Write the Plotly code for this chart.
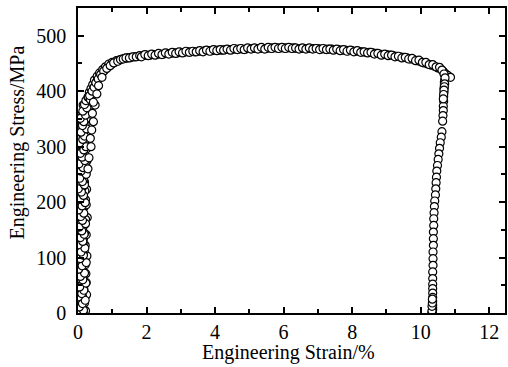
import plotly.graph_objects as go

# ---- data ----
# elastic loading: three passes of readings (dense, scattered band near zero strain)
elastic_strain = [0.05, 0.22, 0.12, 0.03, 0.18, 0.08, 0.25, 0.10, 0.02, 0.20, 0.14, 0.06, 0.23, 0.11, 0.04,
                  0.19, 0.09, 0.26, 0.13, 0.03, 0.21, 0.07, 0.16, 0.24, 0.05, 0.12, 0.20, 0.08, 0.27, 0.14,
                  0.04, 0.18, 0.10, 0.22, 0.06, 0.15, 0.25, 0.09, 0.19, 0.03, 0.13, 0.23, 0.07, 0.17, 0.26,
                  0.10, 0.20, 0.05, 0.14, 0.28, 0.11, 0.22, 0.08, 0.18, 0.30, 0.13, 0.24, 0.09, 0.20, 0.28,
                  0.15, 0.25, 0.33,
                  0.15, 0.02, 0.09, 0.19, 0.06, 0.13, 0.01, 0.17, 0.08, 0.24, 0.04, 0.15, 0.10, 0.02, 0.21,
                  0.07, 0.13, 0.03, 0.18, 0.09, 0.15, 0.02, 0.11, 0.19, 0.06, 0.16, 0.03, 0.22, 0.10, 0.05,
                  0.13, 0.24, 0.07, 0.15, 0.02, 0.20, 0.12, 0.04, 0.17, 0.09, 0.23, 0.06, 0.14, 0.21, 0.10,
                  0.16, 0.07, 0.25, 0.12, 0.19, 0.08, 0.15, 0.27, 0.11, 0.21, 0.16, 0.10, 0.26, 0.18, 0.31,
                  0.22, 0.29, 0.36,
                  0.10, 0.16, 0.04, 0.13, 0.21, 0.01, 0.11, 0.17, 0.05, 0.23, 0.14, 0.07, 0.19, 0.02, 0.12,
                  0.24, 0.06, 0.16, 0.09, 0.20, 0.01, 0.14, 0.07, 0.18, 0.11, 0.04, 0.22, 0.13, 0.08, 0.17,
                  0.02, 0.12, 0.21, 0.06, 0.16, 0.10, 0.01, 0.19, 0.13, 0.05, 0.24, 0.09, 0.15, 0.03, 0.20,
                  0.12, 0.07, 0.17, 0.23, 0.05, 0.14, 0.19, 0.09, 0.25, 0.13, 0.17, 0.07, 0.22, 0.14, 0.26,
                  0.19, 0.23, 0.29]
elastic_stress = [0, 4, 9, 15, 21, 27, 33, 40, 46, 52, 58, 65, 71, 77, 84, 90, 96, 103, 109, 115, 122, 128,
                  134, 141, 147, 153, 160, 166, 172, 179, 185, 191, 198, 204, 210, 217, 223, 229, 236, 242,
                  248, 255, 261, 267, 274, 280, 286, 293, 299, 305, 312, 318, 324, 331, 337, 343, 350, 356,
                  362, 369, 375, 381, 387,
                  2, 7, 12, 18, 24, 30, 37, 43, 49, 55, 62, 68, 74, 81, 87, 93, 100, 106, 112, 119, 125, 131,
                  138, 144, 150, 157, 163, 169, 176, 182, 188, 195, 201, 207, 214, 220, 226, 233, 239, 245,
                  252, 258, 264, 271, 277, 283, 290, 296, 302, 309, 315, 321, 328, 334, 340, 347, 353, 359,
                  366, 372, 378, 384, 392,
                  1, 5, 11, 17, 23, 29, 35, 41, 47, 54, 60, 66, 72, 79, 85, 91, 98, 104, 110, 117, 123, 129,
                  136, 142, 148, 155, 161, 167, 174, 180, 186, 193, 199, 205, 212, 218, 224, 231, 237, 243,
                  250, 256, 262, 269, 275, 281, 288, 294, 300, 307, 313, 319, 326, 332, 338, 345, 351, 357,
                  364, 370, 376, 383, 389]

knee_strain = [0.30, 0.36, 0.33, 0.40, 0.38, 0.45, 0.43, 0.50, 0.48, 0.55, 0.56, 0.62, 0.63, 0.70, 0.72,
               0.78, 0.80, 0.87, 0.90, 0.97, 1.00, 1.08, 1.12, 1.20, 1.28, 1.36, 1.45, 1.55, 1.65, 1.75,
               0.34, 0.41, 0.47, 0.52, 0.59, 0.66, 0.75, 0.84, 0.94, 1.04, 1.16, 1.24, 1.32, 1.40, 1.50,
               1.60, 1.70, 1.80,
               0.32, 0.38, 0.40, 0.45, 0.42, 0.50, 0.45, 0.55, 0.60, 0.70, 0.36, 0.29]
knee_stress = [390, 385, 398, 395, 405, 402, 412, 410, 420, 418, 427, 425, 433, 432, 439,
               438, 444, 443, 449, 448, 452, 452, 455, 456, 458, 459, 460, 461, 462, 463,
               392, 400, 407, 415, 422, 430, 436, 441, 446, 451, 454, 457, 458, 460, 460,
               462, 462, 464,
               280, 300, 330, 345, 360, 375, 380, 395, 410, 425, 315, 260]

plateau_strain = [1.9, 2.0, 2.1, 2.2, 2.3, 2.4, 2.5, 2.6, 2.7, 2.8,
                  2.9, 3.0, 3.1, 3.2, 3.3, 3.4, 3.5, 3.6, 3.7, 3.8,
                  3.9, 4.0, 4.1, 4.2, 4.3, 4.4, 4.5, 4.6, 4.7, 4.8,
                  4.9, 5.0, 5.1, 5.2, 5.3, 5.4, 5.5, 5.6, 5.7, 5.8,
                  5.9, 6.0, 6.1, 6.2, 6.3, 6.4, 6.5, 6.6, 6.7, 6.8,
                  6.9, 7.0, 7.1, 7.2, 7.3, 7.4, 7.5, 7.6, 7.7, 7.8,
                  7.9, 8.0, 8.1, 8.2, 8.3, 8.4, 8.5, 8.6, 8.7, 8.8,
                  8.9, 9.0, 9.1, 9.2, 9.3, 9.4, 9.5, 9.6, 9.7, 9.8,
                  9.9, 10.0, 10.1, 10.2, 10.3, 10.4, 10.5, 10.6, 10.65, 10.7,
                  10.75, 10.8, 10.87]
plateau_stress = [464, 465, 465, 466, 466, 467, 467, 468, 468, 469,
                  469, 470, 470, 471, 471, 471, 472, 472, 473, 473,
                  473, 474, 474, 474, 475, 475, 475, 476, 476, 476,
                  476, 477, 477, 477, 477, 477, 477, 478, 478, 478,
                  478, 478, 478, 478, 478, 477, 477, 477, 477, 477,
                  477, 477, 476, 476, 476, 476, 475, 475, 474, 474,
                  473, 473, 472, 472, 471, 470, 470, 469, 468, 467,
                  466, 466, 465, 464, 463, 462, 461, 460, 458, 457,
                  455, 453, 451, 449, 447, 445, 442, 439, 436, 433,
                  430, 428, 425]

plateau2_strain = [1.85, 1.95, 2.05, 2.15, 2.25, 2.35, 2.45, 2.55, 2.65, 2.75,
                   2.85, 2.95, 3.05, 3.15, 3.25, 3.35, 3.45, 3.55, 3.65, 3.75,
                   3.85, 3.95, 4.05, 4.15, 4.25, 4.35, 4.45, 4.55, 4.65, 4.75,
                   4.85, 4.95, 5.05, 5.15, 5.25, 5.35, 5.45, 5.55, 5.65, 5.75,
                   5.85, 5.95, 6.05, 6.15, 6.25, 6.35, 6.45, 6.55, 6.65, 6.75,
                   6.85, 6.95, 7.05, 7.15, 7.25, 7.35, 7.45, 7.55, 7.65, 7.75,
                   7.85, 7.95, 8.05, 8.15, 8.25, 8.35, 8.45, 8.55, 8.65, 8.75,
                   8.85, 8.95, 9.05, 9.15, 9.25, 9.35, 9.45, 9.55, 9.65, 9.75,
                   9.85, 9.95, 10.05, 10.15, 10.25, 10.35, 10.45, 10.55, 10.62, 10.68]
plateau2_stress = [462, 466, 464, 467, 465, 468, 466, 469, 467, 470,
                   468, 471, 469, 472, 470, 472, 471, 473, 471, 474,
                   472, 475, 473, 475, 474, 476, 474, 477, 475, 477,
                   475, 478, 476, 478, 476, 479, 476, 479, 477, 479,
                   477, 479, 477, 479, 477, 478, 476, 478, 476, 478,
                   476, 477, 475, 477, 475, 476, 474, 476, 473, 475,
                   472, 474, 471, 473, 470, 471, 469, 470, 467, 468,
                   465, 467, 464, 465, 462, 463, 460, 461, 458, 459,
                   455, 456, 452, 452, 448, 448, 444, 443, 438, 431]

drop_strain = [10.70, 10.69, 10.69, 10.68, 10.68, 10.67, 10.67, 10.66, 10.66, 10.65,
               10.64, 10.62, 10.60, 10.57, 10.55, 10.53, 10.51, 10.49, 10.47, 10.46,
               10.45, 10.44, 10.43, 10.41, 10.40, 10.39, 10.38, 10.38, 10.37, 10.37,
               10.37, 10.36, 10.36, 10.36, 10.35, 10.35, 10.35, 10.35, 10.35, 10.35,
               10.35, 10.35, 10.35, 10.35, 10.34, 10.34, 10.33,
               10.71, 10.70, 10.69, 10.68, 10.67, 10.66, 10.33, 10.33, 10.34, 10.34]
drop_stress = [420, 416, 411, 405, 398, 390, 382, 373, 365, 356,
               346, 327, 317, 307, 297, 287, 277, 266, 256, 245,
               235, 224, 213, 202, 192, 181, 170, 158, 146, 134,
               122, 110, 98, 86, 74, 62, 52, 44, 36, 28,
               21, 15, 10, 6, 3, 1, 0,
               424, 413, 408, 402, 394, 386, 4, 12, 18, 25]

strain = elastic_strain + knee_strain + plateau_strain + plateau2_strain + drop_strain
stress = elastic_stress + knee_stress + plateau_stress + plateau2_stress + drop_stress

FONT = "Liberation Serif"

fig = go.Figure()
fig.add_trace(go.Scatter(
    x=strain, y=stress, mode="markers",
    marker=dict(symbol="circle", size=8, color="white",
                line=dict(color="black", width=1.2)),
    showlegend=False, hoverinfo="skip"))

axis_common = dict(
    showgrid=False, zeroline=False, showline=True, linecolor="black", linewidth=1.5,
    mirror="allticks", ticks="inside", ticklen=6, tickwidth=1.5, tickcolor="black",
    tickfont=dict(family=FONT, size=20, color="black"),
)

fig.update_xaxes(range=[0, 12.46], tickvals=[0, 2, 4, 6, 8, 10, 12],
                 minor=dict(dtick=1, tick0=0, ticks="inside", ticklen=4, tickwidth=1.5, tickcolor="black"),
                 **axis_common)
fig.update_yaxes(range=[0, 550], tickvals=[0, 100, 200, 300, 400, 500],
                 minor=dict(dtick=50, tick0=0, ticks="inside", ticklen=4, tickwidth=1.5, tickcolor="black"),
                 ticklabelstandoff=6,
                 **axis_common)

fig.add_annotation(text="Engineering Stress/MPa", xref="paper", yref="paper",
                   x=-0.142, y=0.56, xanchor="center", yanchor="middle", textangle=-90,
                   showarrow=False, font=dict(family=FONT, size=20, color="black"))
fig.add_annotation(text="Engineering Strain/%", xref="paper", yref="paper",
                   x=0.494, y=-0.131, xanchor="center", yanchor="middle",
                   showarrow=False, font=dict(family=FONT, size=20, color="black"))

fig.update_layout(
    width=508, height=367,
    margin=dict(l=78, r=1, t=8, b=54),
    paper_bgcolor="white", plot_bgcolor="white",
)

fig.write_html("out.html")
